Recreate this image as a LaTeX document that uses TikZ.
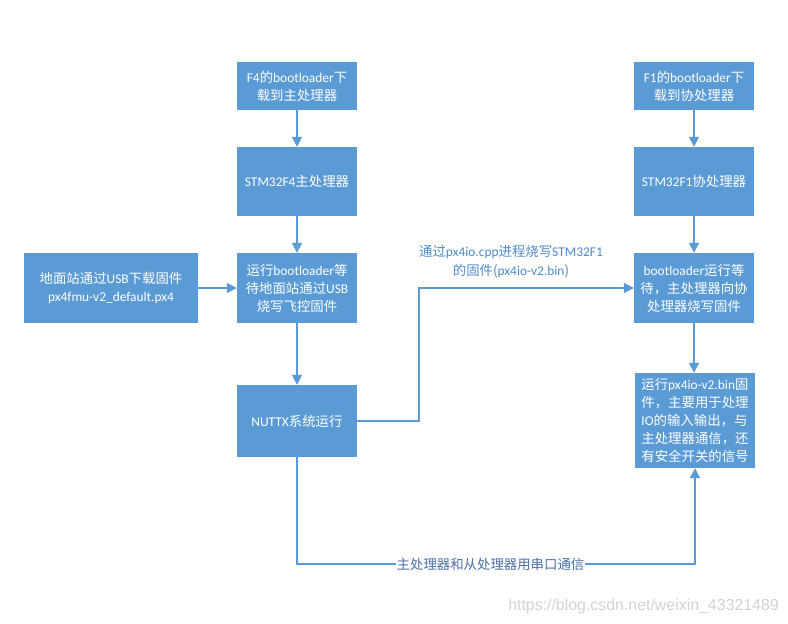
\documentclass[tikz,border=0pt]{standalone}
\usepackage{fontspec}
\setmainfont{Noto Sans CJK SC}
\newfontfamily\lat{Carlito}
\newfontfamily\wm{Liberation Sans}
\usetikzlibrary{arrows.meta}
\definecolor{boxblue}{HTML}{5B9BD5}
\definecolor{lineblue}{HTML}{5B9BD5}
\definecolor{labblue}{HTML}{4F8AC9}
\definecolor{labdark}{HTML}{4A6FA5}
\definecolor{wmgray}{HTML}{D2D2D2}
\begin{document}
\begin{tikzpicture}[x=1pt,y=-1pt,
  box/.style={fill=boxblue,draw=none,text=white,inner sep=0pt,align=center,
    font=\fontsize{13.4}{18}\selectfont},
  arr/.style={draw=lineblue,line width=1.6pt,-{Triangle[width=10pt,length=10pt]}},
  lab/.style={inner sep=1pt,align=center,font=\fontsize{13.4}{19}\selectfont}]
\useasboundingbox (0,0) rectangle (788,624);
\node[box,minimum width=120pt,minimum height=48pt] (A) at (297,86) {{\lat F4}的{\lat bootloader}下\\载到主处理器};
\node[box,minimum width=120pt,minimum height=69pt] (B) at (297,181.5) {{\lat STM32F4}主处理器};
\node[box,minimum width=120pt,minimum height=70pt] (C) at (297,288) {运行{\lat bootloader}等\\待地面站通过{\lat USB}\\烧写飞控固件};
\node[box,minimum width=174pt,minimum height=70pt] (D) at (111,288) {地面站通过{\lat USB}下载固件\\{\lat px4fmu-v2\_default.px4}};
\node[box,minimum width=120pt,minimum height=72pt] (E) at (297,421) {{\lat NUTTX}系统运行};
\node[box,minimum width=120pt,minimum height=48pt] (F) at (694,86) {{\lat F1}的{\lat bootloader}下\\载到协处理器};
\node[box,minimum width=120pt,minimum height=69pt] (G) at (694,181.5) {{\lat STM32F1}协处理器};
\node[box,minimum width=120pt,minimum height=70pt] (H) at (694,288) {{\lat bootloader}运行等\\待，主处理器向协\\处理器烧写固件};
\node[box,minimum width=120pt,minimum height=95pt,align=left] (I) at (695,420.5) {运行{\lat px4io-v2.bin}固\\件，主要用于处理\\{\lat IO}的输入输出，与\\主处理器通信，还\\有安全开关的信号};
\draw[arr] (A) -- (B);
\draw[arr] (B) -- (C);
\draw[arr] (D) -- (C);
\draw[arr] (C) -- (E);
\draw[arr] (F) -- (G);
\draw[arr] (G) -- (H);
\draw[arr] (H.south) -- (I.north -| H.south);
\draw[arr] (E.east) -- ++(62,0) |- (H.west);
\draw[arr] (E.south) -- ++(0,107) -| (I.south);
\node[lab,text=labblue] (L1) at (511,262) {通过{\lat px4io.cpp}进程烧写{\lat STM32F1}\\的固件({\lat px4io-v2.bin})};
\node[lab,text=labdark,fill=white] (L2) at (490.5,564) {主处理器和从处理器用串口通信};
\node[text=wmgray,inner sep=0pt,font=\wm\fontsize{15.9}{17}\selectfont] (W) at (643.5,606) {https://blog.csdn.net/weixin\_43321489};
\end{tikzpicture}
\end{document}
